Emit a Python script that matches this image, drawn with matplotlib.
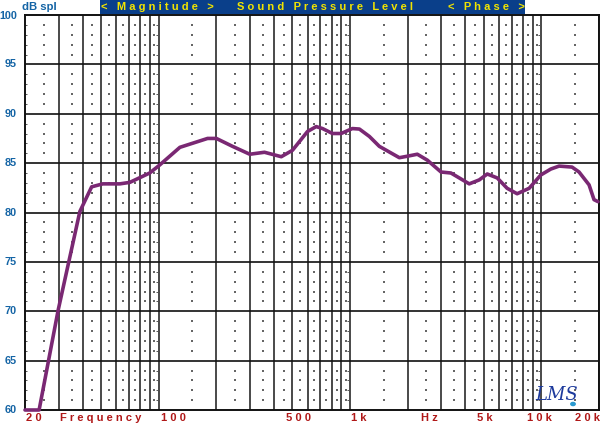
import matplotlib.pyplot as plt
from matplotlib.patches import Rectangle
import numpy as np

# frequency response (Hz, dB SPL)
freq = [20, 23.7, 29.8, 38.7, 44.6, 51, 62.6, 70.6, 89.7, 101, 129, 180, 200,
        243, 299, 357, 437, 500, 599, 665, 718, 809, 898, 1028, 1119, 1262,
        1422, 1810, 1992, 2246, 2534, 2988, 3366, 3722, 4196, 4732, 5212,
        5876, 6622, 7466, 8630, 9930, 11196, 12372, 14456, 15732, 17746,
        18838, 19760]
spl = [60.0, 60.0, 70.1, 80.1, 82.6, 82.9, 82.9, 83.05, 84.0, 84.8, 86.6,
       87.5, 87.5, 86.7, 85.9, 86.1, 85.65, 86.3, 88.2, 88.7, 88.5, 88.0,
       88.0, 88.5, 88.45, 87.7, 86.7, 85.55, 85.7, 85.9, 85.3, 84.1, 84.0,
       83.5, 82.9, 83.3, 83.9, 83.5, 82.45, 81.9, 82.45, 83.8, 84.4, 84.7,
       84.6, 84.1, 82.8, 81.3, 81.1]

y_ticks = [60, 65, 70, 75, 80, 85, 90, 95, 100]
x_labels = ["20", "Frequency", "100", "500", "1k", "Hz", "5k", "10k", "20k"]
x_label_px = [26, 60, 161, 286, 351, 421, 477, 527, 600]

plt.rcParams['font.family'] = ['Liberation Sans', 'DejaVu Sans']


def spaced(s):
    return ' '.join(s)


W, H = 600, 425
fig = plt.figure(figsize=(6, 4.25), dpi=100)
fig.patch.set_facecolor('white')
ax = fig.add_axes([25 / W, 1 - 410 / H, 574 / W, 395 / H])

ax.set_xscale('log')
ax.set_xlim(20, 20000)
ax.set_ylim(60, 100)

# vertical grid: 20..100, 200..1k, 2k..10k, 20k
vlines = list(range(30, 100, 10)) + list(range(100, 1000, 100)) + \
    list(range(1000, 10000, 1000)) + [10000, 20000]
for v in vlines:
    ax.axvline(v, color='#2a2a2a', lw=1.2, zorder=1)
for yv in y_ticks[1:-1]:
    ax.axhline(yv, color='#111111', lw=1.2, zorder=1)

# dotted minor grid
mids = [25, 35, 45, 55, 65, 75, 85, 95] + list(range(150, 1000, 100)) + \
    list(range(1500, 10000, 1000)) + [15000]
dbs = [d for d in range(61, 100) if d % 5 != 0]
mx, my = np.meshgrid(mids, dbs)
ax.scatter(mx.ravel(), my.ravel(), s=1.0, color='#666666', marker='s', lw=0, zorder=1)
# little dashes beside the decade lines
for dec in [20.3, 97.5, 975, 9750]:
    ax.scatter([dec] * len(dbs), dbs, s=3, color='#555555', marker='_', lw=0.7, zorder=1)

ax.plot(freq, spl, color='#7a2873', lw=2.6, solid_capstyle='round',
        clip_on=False, zorder=3)

for s in ax.spines.values():
    s.set_linewidth(1.4)
    s.set_color('#111111')
ax.set_xticks([])
ax.set_yticks([])
ax.minorticks_off()

# y tick labels
for yv in y_ticks:
    py = 15 + (100 - yv) * 395 / 40
    if yv == 100:
        py += 1
    fig.text(17 / W, 1 - py / H, str(yv), ha='right', va='center',
             fontsize=7.8, fontweight='bold', color='#1464a5')
fig.text(22 / W, 1 - 7 / H, "dB spl", ha='left', va='center',
         fontsize=8.2, fontweight='bold', color='#1464a5')

# x labels
for lab, px in zip(x_labels, x_label_px):
    ha = 'right' if px >= 600 else 'left'
    fig.text(px / W, 1 - 418 / H, spaced(lab), ha=ha, va='center',
             fontsize=8, fontweight='bold', color='#b01818')

# header banner
fig.add_artist(Rectangle((100 / W, 1 - 14 / H), 425 / W, 14 / H,
                         transform=fig.transFigure, facecolor='#0a3f8a',
                         edgecolor='none', zorder=5))
for txt, px in [("< Magnitude >", 101), ("Sound Pressure Level", 237),
                ("< Phase >", 448)]:
    fig.text(px / W, 1 - 7 / H, spaced(txt), ha='left', va='center', fontsize=8,
             fontweight='bold', color='#f2e400', zorder=6)

# LMS logo
fig.text(535 / W, 1 - 395 / H, "LMS", ha='left', va='center', fontsize=13,
         style='italic', color='#1d3a9c', family='DejaVu Serif', zorder=6)
fig.add_artist(plt.Circle((573 / W, 1 - 404 / H), 2.2 / W, transform=fig.transFigure,
                          color='#2a9ad0', zorder=6))

fig.savefig('out.png', dpi=100)
